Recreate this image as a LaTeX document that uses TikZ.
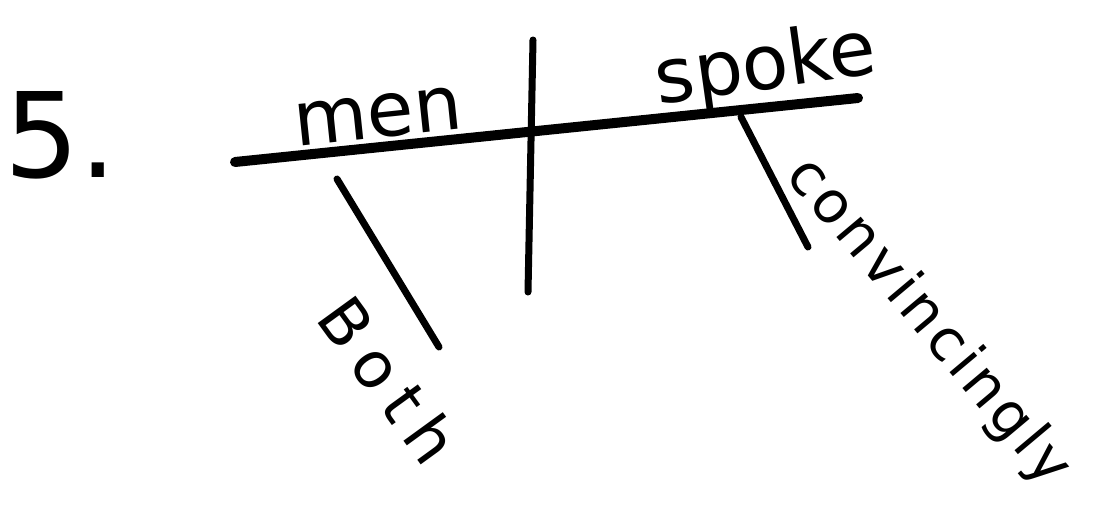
\documentclass[tikz,border=0pt]{standalone}
\usepackage{fontspec}
\setmainfont{DejaVu Sans}
\newfontfamily\handwide[LetterSpace=20]{DejaVu Sans}
\newfontfamily\handmid[LetterSpace=7]{DejaVu Sans}
\begin{document}
\begin{tikzpicture}[x=1pt,y=-1pt,
  word/.style={inner sep=0pt, font=\fontsize{76}{76}\selectfont},
  thick line/.style={line width=10pt, line cap=round},
  mod line/.style={line width=7pt, line cap=round}]
\useasboundingbox (0,0) rectangle (1104,507);
\fill[white] (0,0) rectangle (1104,507);
% number
\node[inner sep=0pt, font=\fontsize{118}{118}\selectfont, anchor=base west] (num) at (4,177) {5.};
% baseline
\coordinate (bl) at (235,162);
\coordinate (br) at (858,98);
\draw[thick line] (bl) -- (br);
% divider
\coordinate (dt) at (533,40);
\coordinate (db) at (528,292);
\draw[mod line] (dt) -- (db);
% words on the baseline
\node[word, rotate=6] (men) at (378,117) {men};
\node[word, rotate=8] (spoke) at (766,68) {spoke};
% modifier lines
\coordinate (b1) at (337,179);
\coordinate (b2) at (439,347);
\draw[mod line] (b1) -- (b2);
\coordinate (c1) at (741,117);
\coordinate (c2) at (808,247);
\draw[mod line] (c1) -- (c2);
% modifier words
\node[inner sep=0pt, rotate=-54, font=\handwide\fontsize{64}{64}\selectfont] (both) at (389,380) {Both};
\node[inner sep=0pt, rotate=-50, font=\handmid\fontsize{58}{58}\selectfont] (conv) at (928,322) {convincingly};
\end{tikzpicture}
\end{document}
